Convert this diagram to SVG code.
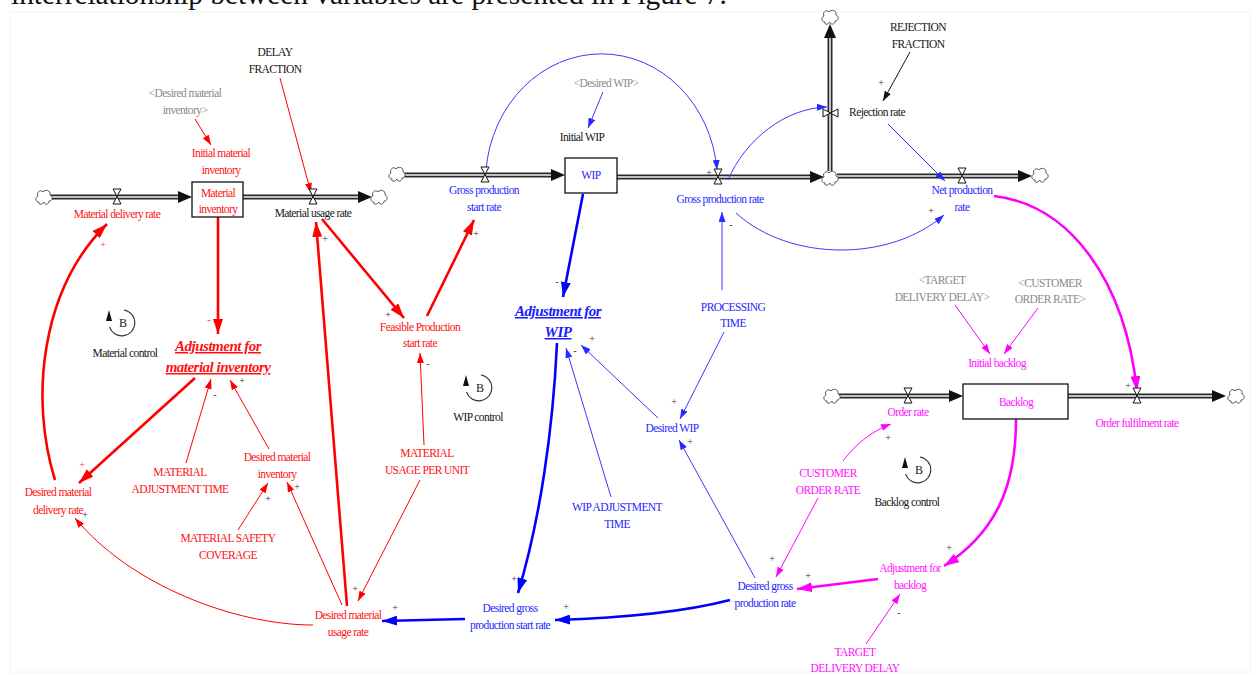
<svg xmlns="http://www.w3.org/2000/svg" width="1257" height="675" viewBox="0 0 1257 675">
<style>
text{font-family:"Liberation Serif","Times New Roman",serif;font-size:11.5px;letter-spacing:-0.6px;text-anchor:middle}
.r{fill:#ff1010}.b{fill:#2626ff}.m{fill:#ff10ff}.k{fill:#151515}.g{fill:#8a8a8a}
.big{font-size:15px;font-weight:bold;font-style:italic;letter-spacing:-0.5px;text-decoration:underline}
.pol{font-size:10px;letter-spacing:0;fill:#333}
.polr{font-size:10px;letter-spacing:0;fill:#ff3030}
.title{font-size:29.3px;letter-spacing:0;text-anchor:start;fill:#111}
.lr{stroke:#ff0000;fill:none;stroke-width:1}
.LR{stroke:#ff0000;fill:none;stroke-width:2.6}
.lb{stroke:#3a3aff;fill:none;stroke-width:1}
.LB{stroke:#0000ff;fill:none;stroke-width:2.6}
.lm{stroke:#ff00ff;fill:none;stroke-width:1}
.LM{stroke:#ff00ff;fill:none;stroke-width:2.6}
.lk{stroke:#111;fill:none;stroke-width:1}
.po{stroke:#2a2a2a;stroke-width:5;fill:none}
.pi{stroke:#f4f4f4;stroke-width:1.5;fill:none}
.box{fill:#fff;stroke:#111;stroke-width:1.3}
.valve{fill:#fff;stroke:#111;stroke-width:1}
.cloud{fill:#fff;stroke:#555;stroke-width:1}
.ah{fill:#111}
.loop{fill:none;stroke:#333;stroke-width:1.1}
.lt{font-size:12px;letter-spacing:0;fill:#222}
.frame{fill:none;stroke:#f2f2f2;stroke-width:1}
</style>
<defs>
<path id="valve" d="M-4,-8 H4 L-4,7 H4 Z"/>
<path id="cloud" d="M-5,5 C-9,5 -9,0 -6,-1 C-8,-5 -3,-8 -1,-5 C1,-8 7,-7 6,-2 C9,-1 9,4 5,4 C5,8 0,8 0,5 C-2,8 -6,8 -5,5 Z"/>
<g id="loopsym">
<path class="loop" d="M2,-13 A13 13 0 1 1 -12.5,4"/>
<polygon points="-13,-13 -16,-2 -10,-2" fill="#111"/>
<text class="lt" x="1" y="4">B</text>
</g>
<marker id="ar" viewBox="0 0 10 10" refX="10" refY="5" markerWidth="10" markerHeight="7" markerUnits="userSpaceOnUse" orient="auto" preserveAspectRatio="none"><path d="M0,0 L10,5 L0,10 Z" fill="#ff0000"/></marker>
<marker id="AR" viewBox="0 0 10 10" refX="10" refY="5" markerWidth="15" markerHeight="10" markerUnits="userSpaceOnUse" orient="auto" preserveAspectRatio="none"><path d="M0,0 L10,5 L0,10 Z" fill="#ff0000"/></marker>
<marker id="ab" viewBox="0 0 10 10" refX="10" refY="5" markerWidth="10" markerHeight="7" markerUnits="userSpaceOnUse" orient="auto" preserveAspectRatio="none"><path d="M0,0 L10,5 L0,10 Z" fill="#2a2aff"/></marker>
<marker id="AB" viewBox="0 0 10 10" refX="10" refY="5" markerWidth="15" markerHeight="10" markerUnits="userSpaceOnUse" orient="auto" preserveAspectRatio="none"><path d="M0,0 L10,5 L0,10 Z" fill="#0000ff"/></marker>
<marker id="am" viewBox="0 0 10 10" refX="10" refY="5" markerWidth="10" markerHeight="7" markerUnits="userSpaceOnUse" orient="auto" preserveAspectRatio="none"><path d="M0,0 L10,5 L0,10 Z" fill="#ff00ff"/></marker>
<marker id="AM" viewBox="0 0 10 10" refX="10" refY="5" markerWidth="15" markerHeight="10" markerUnits="userSpaceOnUse" orient="auto" preserveAspectRatio="none"><path d="M0,0 L10,5 L0,10 Z" fill="#ff00ff"/></marker>
<marker id="ak" viewBox="0 0 10 10" refX="10" refY="5" markerWidth="10" markerHeight="7" markerUnits="userSpaceOnUse" orient="auto" preserveAspectRatio="none"><path d="M0,0 L10,5 L0,10 Z" fill="#111"/></marker>
</defs>
<rect width="1257" height="675" fill="#fff"/>
<rect class="frame" x="10" y="12" width="1240" height="660"/>
<g id="title"><text class="title" x="11" y="4">interrelationship between variables are presented in Figure 7.</text></g>

<g id="flows">
<path class="po" d="M50,197 H182"/><path class="pi" d="M50,197 H182"/><polygon class="ah" points="192,197 178,191 178,203"/>
<path class="po" d="M243,197 H362"/><path class="pi" d="M243,197 H362"/><polygon class="ah" points="372,197 358,191 358,203"/>
<path class="po" d="M404,175 H555"/><path class="pi" d="M404,175 H555"/><polygon class="ah" points="565,175 551,169 551,181"/>
<path class="po" d="M617,177 H814"/><path class="pi" d="M617,177 H814"/><polygon class="ah" points="824,177 810,171 810,183"/>
<path class="po" d="M830,171 V34"/><path class="pi" d="M830,171 V34"/><polygon class="ah" points="830,24 824,38 836,38"/>
<path class="po" d="M837,176 H1022"/><path class="pi" d="M837,176 H1022"/><polygon class="ah" points="1032,176 1018,170 1018,182"/>
<path class="po" d="M839,396 H953"/><path class="pi" d="M839,396 H953"/><polygon class="ah" points="963,396 949,390 949,402"/>
<path class="po" d="M1068,396 H1216"/><path class="pi" d="M1068,396 H1216"/><polygon class="ah" points="1226,396 1212,390 1212,402"/>
<use href="#cloud" class="cloud" x="44" y="197"/>
<use href="#cloud" class="cloud" x="379" y="197"/>
<use href="#cloud" class="cloud" x="397" y="174"/>
<use href="#cloud" class="cloud" x="830" y="178"/>
<use href="#cloud" class="cloud" x="830" y="17"/>
<use href="#cloud" class="cloud" x="1040" y="175"/>
<use href="#cloud" class="cloud" x="832" y="396"/>
<use href="#cloud" class="cloud" x="1236" y="396"/>
</g>

<g id="connectors">
<path class="LR" marker-end="url(#AR)" d="M218,217 L218,334"/>
<path class="LR" marker-end="url(#AR)" d="M322,219 L404,318"/>
<path class="LR" marker-end="url(#AR)" d="M427,316 L474,220"/>
<path class="LR" marker-end="url(#AR)" d="M347,606 L316,222"/>
<path class="LR" marker-end="url(#AR)" d="M195,378 L79,483"/>
<path class="LR" marker-end="url(#AR)" d="M55,480 C30,400 40,290 107,224"/>
<path class="lr" marker-end="url(#ar)" d="M195,119 L211,145"/>
<path class="lr" marker-end="url(#ar)" d="M280,78 L311,193"/>
<path class="lr" marker-end="url(#ar)" d="M424,445 L420,353"/>
<path class="lr" marker-end="url(#ar)" d="M420,480 L358,601"/>
<path class="lr" marker-end="url(#ar)" d="M186,463 L211,379"/>
<path class="lr" marker-end="url(#ar)" d="M269,449 L230,380"/>
<path class="lr" marker-end="url(#ar)" d="M238,530 L268,483"/>
<path class="lr" marker-end="url(#ar)" d="M342,605 L287,482"/>
<path class="lr" marker-end="url(#ar)" d="M313,625 C235,625 130,585 75,518"/>
<path class="LB" marker-end="url(#AB)" d="M583,194 L563,297"/>
<path class="LB" marker-end="url(#AB)" d="M557,343 C553,430 540,520 518,593"/>
<path class="LB" marker-end="url(#AB)" d="M465,619 L382,621"/>
<path class="LB" marker-end="url(#AB)" d="M730,600 C680,613 620,618 555,620"/>
<path class="lb" marker-end="url(#ab)" d="M486,170 A116 128 0 0 1 717,170"/>
<path class="lb" marker-end="url(#ab)" d="M603,92 L588,128"/>
<path class="lb" marker-end="url(#ab)" d="M728,180 C745,140 785,108 827,107"/>
<path class="lb" marker-end="url(#ab)" d="M888,124 L945,181"/>
<path class="lb" marker-end="url(#ab)" d="M736,213 C790,262 890,262 944,215"/>
<path class="lb" marker-end="url(#ab)" d="M722,290 L722,212"/>
<path class="lb" marker-end="url(#ab)" d="M724,332 L680,419"/>
<path class="lb" marker-end="url(#ab)" d="M658,418 L581,345"/>
<path class="lb" marker-end="url(#ab)" d="M611,497 L566,348"/>
<path class="lb" marker-end="url(#ab)" d="M755,578 L679,440"/>
<path class="lk" marker-end="url(#ak)" d="M910,52 L883,101"/>
<path class="LM" marker-end="url(#AM)" d="M994,196 C1070,205 1125,280 1137,391"/>
<path class="LM" marker-end="url(#AM)" d="M1016,419 C1016,480 1000,530 944,566"/>
<path class="LM" marker-end="url(#AM)" d="M878,579 L797,589"/>
<path class="lm" marker-end="url(#am)" d="M955,305 L990,354"/>
<path class="lm" marker-end="url(#am)" d="M1038,308 L1004,354"/>
<path class="lm" marker-end="url(#am)" d="M843,461 C855,445 870,432 891,424"/>
<path class="lm" marker-end="url(#am)" d="M818,498 L776,577"/>
<path class="lm" marker-end="url(#am)" d="M866,644 L900,594"/>
<text class="pol" x="300" y="201">-</text>
<text class="polr" x="103" y="248">+</text>
<text class="pol" x="325" y="242">+</text>
<text class="polr" x="209" y="323">-</text>
<text class="pol" x="388" y="318">+</text>
<text class="pol" x="476" y="237">+</text>
<text class="pol" x="428" y="367">-</text>
<text class="pol" x="215" y="398">-</text>
<text class="pol" x="242" y="384">+</text>
<text class="polr" x="82" y="468">+</text>
<text class="pol" x="85" y="518">+</text>
<text class="pol" x="297" y="490">+</text>
<text class="pol" x="268" y="502">+</text>
<text class="pol" x="355" y="592">+</text>
<text class="pol" x="395" y="611">+</text>
<text class="pol" x="514" y="582">+</text>
<text class="pol" x="566" y="610">+</text>
<text class="pol" x="772" y="562">+</text>
<text class="pol" x="808" y="579">+</text>
<text class="pol" x="949" y="551">+</text>
<text class="pol" x="899" y="616">-</text>
<text class="pol" x="888" y="441">+</text>
<text class="pol" x="1128" y="389">+</text>
<text class="pol" x="881" y="86">+</text>
<text class="pol" x="931" y="214">+</text>
<text class="pol" x="709" y="176">+</text>
<text class="pol" x="731" y="228">-</text>
<text class="pol" x="557" y="285">-</text>
<text class="pol" x="575" y="354">-</text>
<text class="pol" x="592" y="342">+</text>
<text class="pol" x="674" y="405">+</text>
<text class="pol" x="690" y="445">+</text>
</g>

<g id="desired-material-inventory-shadow"><text class="g"><tspan x="185" y="97">&lt;Desired material</tspan><tspan x="185" y="114">inventory&gt;</tspan></text></g>
<g id="initial-material-inventory"><text class="r"><tspan x="221" y="157">Initial material</tspan><tspan x="221" y="174">inventory</tspan></text></g>
<g id="delay-fraction"><text class="k"><tspan x="275" y="56">DELAY</tspan><tspan x="275" y="73">FRACTION</tspan></text></g>
<g id="material-inventory"><rect class="box" x="192" y="182" width="51" height="35"/><text class="r"><tspan x="218" y="197">Material</tspan><tspan x="218" y="213">inventory</tspan></text></g>
<g id="material-delivery-rate"><use href="#valve" class="valve" x="117" y="197"/><text class="r" x="117" y="218">Material delivery rate</text></g>
<g id="material-usage-rate"><use href="#valve" class="valve" x="313" y="197"/><text class="k" x="313" y="217">Material usage rate</text></g>
<g id="gross-production-start-rate"><use href="#valve" class="valve" x="485" y="175"/><text class="b"><tspan x="484" y="194">Gross production</tspan><tspan x="484" y="211">start rate</tspan></text></g>
<g id="wip"><rect class="box" x="565" y="158" width="52" height="35"/><text class="b" x="591" y="179">WIP</text></g>
<g id="initial-wip"><text class="k" x="582" y="141">Initial WIP</text></g>
<g id="desired-wip-shadow"><text class="g" x="606" y="87">&lt;Desired WIP&gt;</text></g>
<g id="gross-production-rate"><use href="#valve" class="valve" x="718" y="177"/><text class="b" x="720" y="203">Gross production rate</text></g>
<g id="rejection-fraction"><text class="k"><tspan x="918" y="31">REJECTION</tspan><tspan x="918" y="48">FRACTION</tspan></text></g>
<g id="rejection-rate"><use href="#valve" class="valve" transform="translate(830,113) rotate(90)"/><text class="k" x="877" y="116">Rejection rate</text></g>
<g id="net-production-rate"><use href="#valve" class="valve" x="962" y="176"/><text class="b"><tspan x="962" y="194">Net production</tspan><tspan x="962" y="211">rate</tspan></text></g>
<g id="adjustment-for-material-inventory"><text class="r big"><tspan x="218" y="351">Adjustment for</tspan><tspan x="218" y="372">material inventory</tspan></text></g>
<g id="feasible-production-start-rate"><text class="r"><tspan x="420" y="331">Feasible Production</tspan><tspan x="420" y="347">start rate</tspan></text></g>
<g id="material-usage-per-unit"><text class="r"><tspan x="427" y="457">MATERIAL</tspan><tspan x="427" y="474">USAGE PER UNIT</tspan></text></g>
<g id="desired-material-usage-rate"><text class="r"><tspan x="348" y="619">Desired material</tspan><tspan x="348" y="636">usage rate</tspan></text></g>
<g id="desired-material-delivery-rate"><text class="r"><tspan x="58" y="496">Desired material</tspan><tspan x="58" y="514">delivery rate</tspan></text></g>
<g id="material-adjustment-time"><text class="r"><tspan x="180" y="476">MATERIAL</tspan><tspan x="180" y="493">ADJUSTMENT TIME</tspan></text></g>
<g id="desired-material-inventory"><text class="r"><tspan x="277" y="461">Desired material</tspan><tspan x="277" y="478">inventory</tspan></text></g>
<g id="material-safety-coverage"><text class="r"><tspan x="228" y="542">MATERIAL SAFETY</tspan><tspan x="228" y="559">COVERAGE</tspan></text></g>
<g id="adjustment-for-wip"><text class="b big" style="fill:#1a1aff"><tspan x="558" y="316">Adjustment for</tspan><tspan x="558" y="337">WIP</tspan></text></g>
<g id="desired-gross-production-start-rate"><text class="b"><tspan x="510" y="612">Desired gross</tspan><tspan x="510" y="629">production start rate</tspan></text></g>
<g id="wip-adjustment-time"><text class="b"><tspan x="617" y="511">WIP ADJUSTMENT</tspan><tspan x="617" y="528">TIME</tspan></text></g>
<g id="desired-wip"><text class="b" x="672" y="432">Desired WIP</text></g>
<g id="processing-time"><text class="b"><tspan x="733" y="311">PROCESSING</tspan><tspan x="733" y="327">TIME</tspan></text></g>
<g id="desired-gross-production-rate"><text class="b"><tspan x="765" y="590">Desired gross</tspan><tspan x="765" y="607">production rate</tspan></text></g>
<g id="target-delivery-delay-shadow"><text class="g"><tspan x="942" y="284">&lt;TARGET</tspan><tspan x="942" y="301">DELIVERY DELAY&gt;</tspan></text></g>
<g id="customer-order-rate-shadow"><text class="g"><tspan x="1050" y="287">&lt;CUSTOMER</tspan><tspan x="1050" y="303">ORDER RATE&gt;</tspan></text></g>
<g id="initial-backlog"><text class="m" x="997" y="367">Initial backlog</text></g>
<g id="backlog"><rect class="box" x="963" y="384" width="105" height="35"/><text class="m" x="1016" y="406">Backlog</text></g>
<g id="order-rate"><use href="#valve" class="valve" x="908" y="396"/><text class="m" x="908" y="416">Order rate</text></g>
<g id="order-fulfilment-rate"><use href="#valve" class="valve" x="1137" y="396"/><text class="m" x="1137" y="427">Order fulfilment rate</text></g>
<g id="customer-order-rate"><text class="m"><tspan x="828" y="477">CUSTOMER</tspan><tspan x="828" y="494">ORDER RATE</tspan></text></g>
<g id="adjustment-for-backlog"><text class="m"><tspan x="910" y="572">Adjustment for</tspan><tspan x="910" y="589">backlog</tspan></text></g>
<g id="target-delivery-delay"><text class="m"><tspan x="855" y="656">TARGET</tspan><tspan x="855" y="672">DELIVERY DELAY</tspan></text></g>
<g id="loop-material-control"><use href="#loopsym" x="122" y="323"/><text class="k" x="125" y="357">Material control</text></g>
<g id="loop-wip-control"><use href="#loopsym" x="479" y="388"/><text class="k" x="478" y="421">WIP control</text></g>
<g id="loop-backlog-control"><use href="#loopsym" x="918" y="470"/><text class="k" x="907" y="506">Backlog control</text></g>
</svg>
